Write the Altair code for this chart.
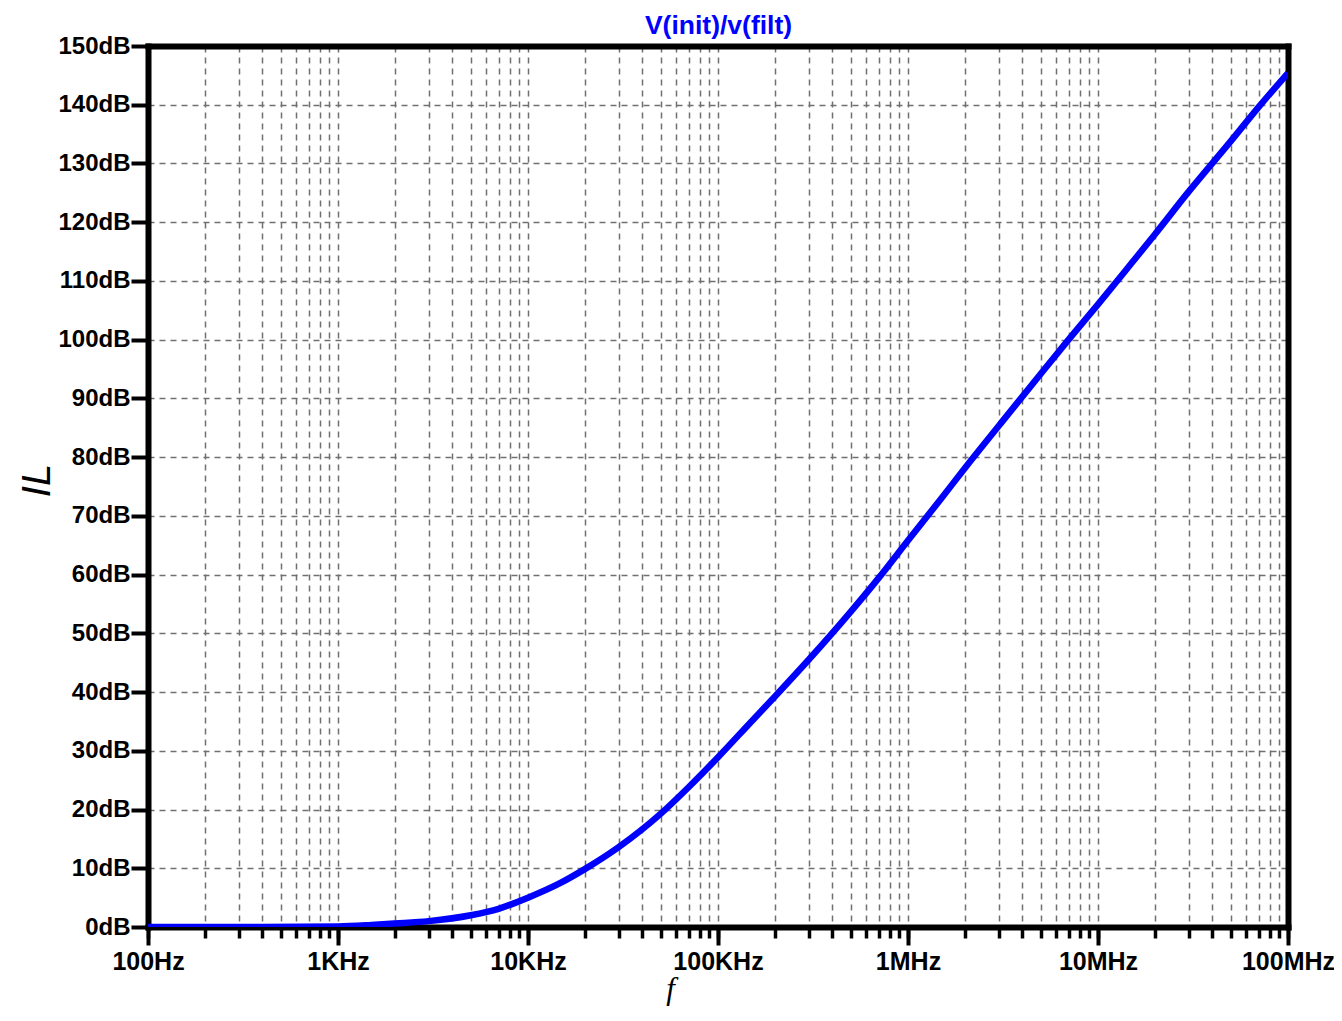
import altair as alt
import pandas as pd

# ---- data ----
freq_hz = [100, 300, 1000, 1500, 2000, 3000, 5000, 7000, 10000, 15000, 20000, 30000,
           50000, 70000, 100000, 150000, 200000, 300000, 500000, 700000, 1000000,
           1500000, 2000000, 3000000, 5000000, 7000000, 10000000, 15000000, 20000000,
           30000000, 50000000, 70000000, 100000000]
il_db = [0, 0, 0.1, 0.35, 0.6, 1.0, 2.0, 3.1, 5.0, 7.6, 9.9, 13.6,
         19.3, 23.8, 28.9, 35.0, 39.3, 45.5, 53.7, 59.4, 65.8,
         73.0, 78.2, 85.3, 94.2, 100.0, 106.0, 113.0, 118.0,
         125.2, 133.8, 139.6, 145.4]

y_ticks_db = [0, 10, 20, 30, 40, 50, 60, 70, 80, 90, 100, 110, 120, 130, 140, 150]
x_decades_hz = [100, 1000, 10000, 100000, 1000000, 10000000, 100000000]
x_decade_labels = ["100Hz", "1KHz", "10KHz", "100KHz", "1MHz", "10MHz", "100MHz"]
x_minor_steps = [1, 2, 3, 4, 5, 6, 7, 8, 9]
chart_title = "V(init)/v(filt)"
y_title = "IL"
x_title = "f"

df = pd.DataFrame({"f": freq_hz, "IL": il_db})
x_grid_vals = [d * m for d in x_decades_hz[:-1] for m in x_minor_steps] + [x_decades_hz[-1]]
label_array = "[" + ",".join("'" + s + "'" for s in x_decade_labels) + "]"
x_label_expr = label_array + "[round(log(datum.value)/LN10) - 2]"

W, H = 1140, 881

xs = alt.Scale(type="log", domain=[x_decades_hz[0], x_decades_hz[-1]], nice=False)
ys = alt.Scale(domain=[0, 150], nice=False, zero=False)

GRID = dict(grid=True, gridColor="#707070", gridWidth=1.5, gridDash=[6, 5])
DOM = dict(domain=True, domainColor="black", domainWidth=6, domainCap="square")
LBL = dict(labelFont="Liberation Sans", labelFontWeight="bold", labelColor="black")

base = alt.Chart(df)

line = base.mark_line(color="#0000ff", strokeWidth=6.5, interpolate="monotone", clip=True).encode(
    x=alt.X("f:Q", scale=xs, axis=alt.Axis(
        orient="bottom", values=x_grid_vals, labels=False, tickSize=11, tickWidth=3.5,
        tickColor="black", title=None, **GRID, **DOM)),
    y=alt.Y("IL:Q", scale=ys, axis=alt.Axis(
        orient="left", values=y_ticks_db, labelExpr="datum.value + 'dB'", labelFontSize=24,
        labelPadding=1, labelOverlap=False, tickSize=17, tickWidth=4, tickColor="black",
        title=y_title, titleFont="Liberation Sans", titleFontSize=40, titleFontStyle="italic",
        titleFontWeight="normal", titleColor="black", titleAngle=270, titleX=-99, titleY=434,
        titleAlign="center", titleBaseline="alphabetic", **LBL, **GRID, **DOM)),
)

major = base.mark_line(strokeOpacity=0).encode(
    x=alt.X("f:Q", scale=xs, axis=alt.Axis(
        orient="bottom", values=x_decades_hz, labelExpr=x_label_expr, labelFontSize=25,
        labelPadding=4, labelFlush=False, labelOverlap=False, labelBound=False,
        tickSize=18, tickWidth=4, tickColor="black", domain=False, grid=False,
        title=x_title, titleFont="Liberation Serif", titleFontSize=31, titleFontStyle="italic",
        titleFontWeight="normal", titleColor="black", titleX=522, titleY=71,
        titleAlign="center", titleBaseline="alphabetic", **LBL)),
    y=alt.Y("IL:Q", scale=ys, axis=alt.Axis(
        orient="right", labels=False, ticks=False, grid=False, title=None, **DOM)),
)

top = base.mark_line(strokeOpacity=0).encode(
    x=alt.X("f:Q", scale=xs, axis=alt.Axis(
        orient="top", labels=False, ticks=False, grid=False,
        title=chart_title, titleFont="Liberation Sans", titleFontSize=26.5, titleFontWeight="bold",
        titleColor="#0000ff", titleX=W / 2, titleY=-13, titleAlign="center",
        titleBaseline="alphabetic", **DOM)),
    y=alt.Y("IL:Q", scale=ys, axis=None),
)

chart = alt.layer(line, major, top).resolve_axis(
    x="independent", y="independent"
).properties(
    width=W,
    height=H,
    autosize=alt.AutoSizeParams(type="none"),
    padding={"left": 140, "top": 38, "right": 46, "bottom": 79},
).configure_view(stroke=None).configure(background="white")

chart.save("out.html", embed_options={"renderer": "svg", "actions": False})
